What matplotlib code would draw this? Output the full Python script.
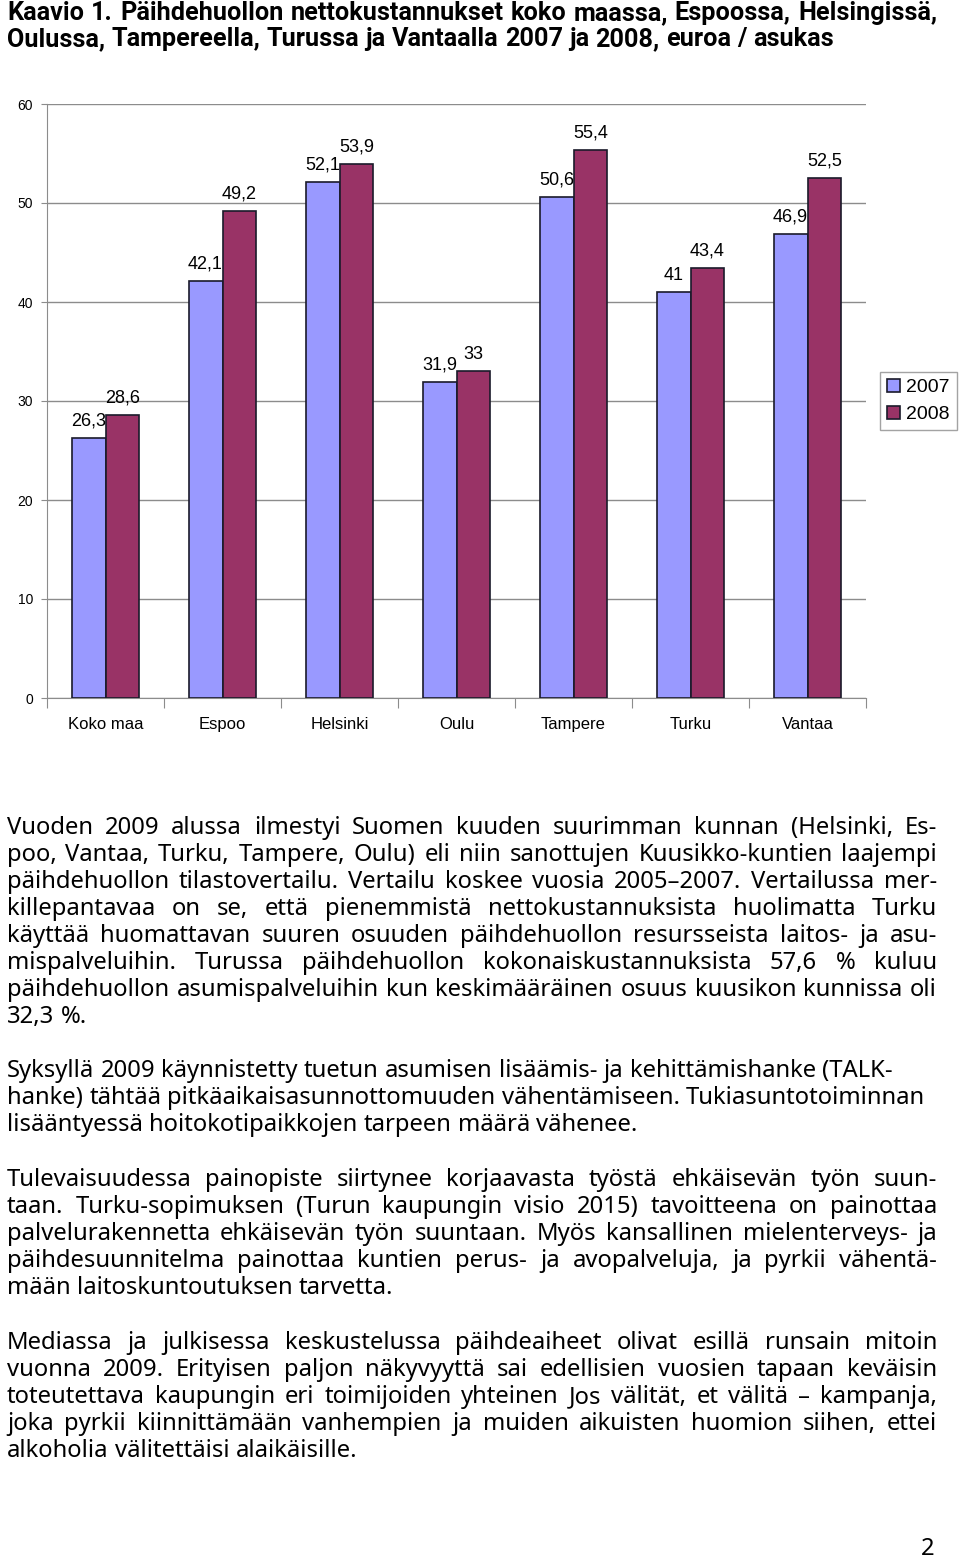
import matplotlib.pyplot as plt
import numpy as np
from matplotlib.font_manager import FontProperties

# Kaavion data
kategoriat = ['Koko maa', 'Espoo', 'Helsinki', 'Oulu', 'Tampere', 'Turku', 'Vantaa']
v2007 = [26.3, 42.1, 52.1, 31.9, 50.6, 41, 46.9]
v2008 = [28.6, 49.2, 53.9, 33, 55.4, 43.4, 52.5]
vuodet = ['2007', '2008']
varit = ['#9999ff', '#993366']

otsikko = [
    "Kaavio 1. Päihdehuollon nettokustannukset koko maassa, Espoossa, Helsingissä,",
    "Oulussa, Tampereella, Turussa ja Vantaalla 2007 ja 2008, euroa / asukas",
]

# (teksti, tasataanko)
kappaleet = [
    [("Vuoden 2009 alussa ilmestyi Suomen kuuden suurimman kunnan (Helsinki, Es-", True),
     ("poo, Vantaa, Turku, Tampere, Oulu) eli niin sanottujen Kuusikko-kuntien laajempi", True),
     ("päihdehuollon tilastovertailu. Vertailu koskee vuosia 2005–2007. Vertailussa mer-", True),
     ("killepantavaa on se, että pienemmistä nettokustannuksista huolimatta Turku", True),
     ("käyttää huomattavan suuren osuuden päihdehuollon resursseista laitos- ja asu-", True),
     ("mispalveluihin. Turussa päihdehuollon kokonaiskustannuksista 57,6 % kuluu", True),
     ("päihdehuollon asumispalveluihin kun keskimääräinen osuus kuusikon kunnissa oli", True),
     ("32,3 %.", False)],
    [("Syksyllä 2009 käynnistetty tuetun asumisen lisäämis- ja kehittämishanke (TALK-", False),
     ("hanke) tähtää pitkäaikaisasunnottomuuden vähentämiseen. Tukiasuntotoiminnan", False),
     ("lisääntyessä hoitokotipaikkojen tarpeen määrä vähenee.", False)],
    [("Tulevaisuudessa painopiste siirtynee korjaavasta työstä ehkäisevän työn suun-", True),
     ("taan.  Turku-sopimuksen (Turun kaupungin visio 2015) tavoitteena on painottaa", True),
     ("palvelurakennetta ehkäisevän työn suuntaan. Myös kansallinen mielenterveys- ja", True),
     ("päihdesuunnitelma painottaa kuntien perus- ja avopalveluja, ja pyrkii vähentä-", True),
     ("mään laitoskuntoutuksen tarvetta.", False)],
    [("Mediassa ja julkisessa keskustelussa päihdeaiheet olivat esillä runsain mitoin", True),
     ("vuonna 2009.  Erityisen paljon näkyvyyttä sai edellisien vuosien tapaan keväisin", True),
     ("toteutettava kaupungin eri toimijoiden yhteinen Jos välität, et välitä – kampanja,", True),
     ("joka pyrkii kiinnittämään vanhempien ja muiden aikuisten huomion siihen, ettei", True),
     ("alkoholia välitettäisi alaikäisille.", False)],
]
kappale_alku = [827, 1070, 1179, 1342]  # ensimmäisen rivin keskikohta (px)
rivivali = 27

W, H = 960, 1560
fig = plt.figure(figsize=(W / 100, H / 100), dpi=100)
r = fig.canvas.get_renderer()

# --- pylväskaavio ---
ax = fig.add_axes([47 / W, 1 - 698 / H, 819 / W, 594 / H])
x = np.arange(len(kategoriat))
w = 0.29
for i, (arvot, vuosi, vari) in enumerate(zip([v2007, v2008], vuodet, varit)):
    xs = x + (i - 0.5) * w
    ax.bar(xs, arvot, w, color=vari, edgecolor='#1a1a2a', linewidth=1.2, label=vuosi, zorder=3)
    for xi, v in zip(xs, arvot):
        ax.annotate(f"{v:g}".replace('.', ','), (xi, v), xytext=(0, 9), textcoords='offset points',
                    ha='center', va='baseline', fontsize=13, family='Liberation Sans', zorder=4)

ax.set_xlim(-0.5, len(kategoriat) - 0.5)
ax.set_ylim(0, 60)
ax.set_yticks(range(0, 61, 10))
ax.yaxis.grid(True, color='#8c8c8c', linewidth=1)
ax.set_axisbelow(True)
for s in ['top', 'right']:
    ax.spines[s].set_visible(False)
for s in ['left', 'bottom']:
    ax.spines[s].set_color('#8c8c8c')
ax.set_xticks(np.arange(-0.5, len(kategoriat), 1))
ax.set_xticklabels([])
ax.set_xticks(x, minor=True)
ax.set_xticklabels(kategoriat, minor=True, fontsize=12, family='Liberation Sans')
ax.tick_params(axis='x', which='major', length=7, color='#8c8c8c')
ax.tick_params(axis='x', which='minor', length=0, pad=14)
ax.tick_params(axis='y', length=4, color='#8c8c8c', labelsize=10, pad=6)
for t in ax.get_yticklabels():
    t.set_family('Liberation Sans')

leg = ax.legend(loc='center left', bbox_to_anchor=(880 / W, 1 - 401 / H), bbox_transform=fig.transFigure,
                fancybox=False, frameon=True, edgecolor='#8c8c8c', prop={'family': 'Liberation Sans', 'size': 14},
                handlelength=0.7, handleheight=0.7, handletextpad=0.3, labelspacing=0.5,
                borderpad=0.35, borderaxespad=0)


# --- tekstit ---
def rivi(teksti, baseline, prop, tasaa, x0=7, leveys=930):
    sanat = teksti.split()
    lev = [r.get_text_width_height_descent(s, prop, ismath=False)[0] for s in sanat]
    if tasaa and len(sanat) > 1:
        vali = (leveys - sum(lev)) / (len(sanat) - 1)
    else:
        vali = r.get_text_width_height_descent('a a', prop, ismath=False)[0] - \
            2 * r.get_text_width_height_descent('a', prop, ismath=False)[0]
    xp = x0
    for s, l in zip(sanat, lev):
        fig.text(xp / W, 1 - baseline / H, s, fontproperties=prop, va='baseline', ha='left')
        xp += l + vali


runko = FontProperties(family='Noto Sans', size=10)
leveys10 = r.get_text_width_height_descent("lisääntyessä hoitokotipaikkojen tarpeen määrä vähenee.", runko, ismath=False)[0]
runko.set_size(10 * 630 / leveys10)

lihava = FontProperties(family='Roboto', weight='bold', size=10)
leveys10 = r.get_text_width_height_descent(otsikko[1], lihava, ismath=False)[0]
lihava.set_size(10 * 826 / leveys10)

rivi(otsikko[0], 20, lihava, True)
rivi(otsikko[1], 46, lihava, False)

for alku, kappale in zip(kappale_alku, kappaleet):
    for k, (teksti, tasaa) in enumerate(kappale):
        rivi(teksti, alku + k * rivivali + 7, runko, tasaa)

fig.text(935 / W, 1 - 1555 / H, '2', fontproperties=runko, ha='right', va='baseline')

fig.savefig('out.png', dpi=100)
